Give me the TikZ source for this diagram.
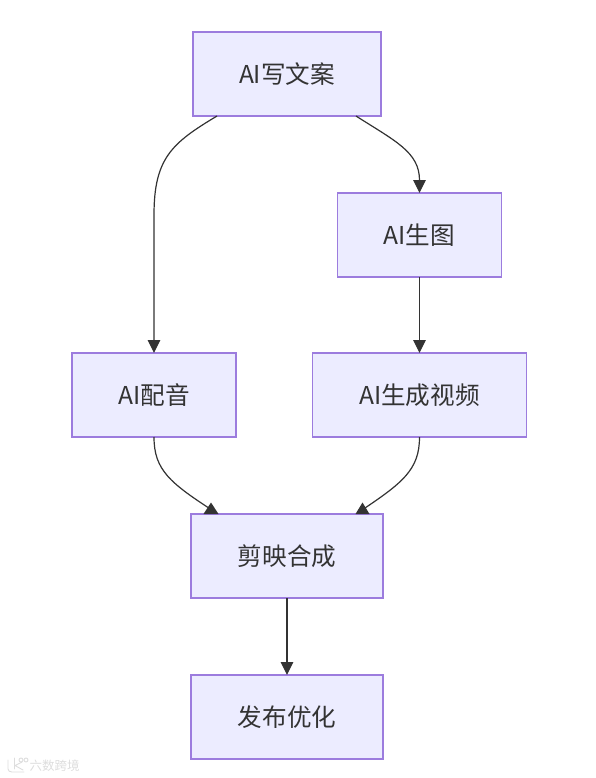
\documentclass[tikz,border=0pt]{standalone}
\usepackage{fontspec}
\setmainfont{Noto Sans CJK SC}
\usetikzlibrary{arrows.meta,calc}
\definecolor{nodefill}{HTML}{ECECFF}
\definecolor{nodeline}{HTML}{9C7CDE}
\definecolor{ink}{HTML}{333333}
\definecolor{wmark}{HTML}{DDDDDD}
\tikzset{
  x=1pt,y=-1pt,
  flowbox/.style={draw=nodeline,fill=nodefill,line width=1.3pt,outer sep=0pt,inner sep=0pt,
    text=ink,font=\fontsize{24.6}{28}\selectfont,minimum height=84pt},
  link/.style={draw=ink,line width=1.2pt},
  linkhead/.style={link,-{Triangle[length=13pt,width=12.5pt]}},
  headfill/.style={fill=ink},
  wm/.style={draw=wmark,line width=0.9pt,line cap=round,line join=round}
}
\begin{document}
\begin{tikzpicture}
\useasboundingbox (0,0) rectangle (595,778);
\node[flowbox,minimum width=188pt] (A) at (287,74) {AI写文案};
\node[flowbox,minimum width=164pt] (B) at (419.5,235) {AI生图};
\node[flowbox,minimum width=164pt] (C) at (154,395) {AI配音};
\node[flowbox,minimum width=214pt] (D) at (419.5,395) {AI生成视频};
\node[flowbox,minimum width=192pt] (E) at (287,556) {剪映合成};
\node[flowbox,minimum width=192pt] (F) at (287,717) {发布优化};
% connector ends on the box edges
\coordinate (a1) at ($(A.south)+(-70,0)$);
\coordinate (a2) at ($(A.south)+(69,0)$);
\coordinate (e1) at ($(E.north)+(-72,-2)$);
\coordinate (e2) at ($(E.north)+(72,-2)$);
\draw[linkhead] (a1) .. controls ($(a1)+(-45,27)$) and ($(C.north)+(0,-195)$) .. ($(C.north)+(0,-138)$) -- (C.north);
\draw[linkhead] (a2) .. controls ($(a2)+(39,25)$) and ($(B.north)+(0,-41)$) .. (B.north);
\draw[linkhead] (B.south) -- (D.north);
\draw[link] (C.south) .. controls ($(C.south)+(0,33)$) and ($(C.south)+(16,46)$) .. (e1);
\draw[link] (D.south) .. controls ($(D.south)+(0,33)$) and ($(D.south)+(-17,46)$) .. (e2);
\draw[linkhead] (E.south) -- (F.north);
% upright arrowheads sitting on the top edge of the merge box
\fill[headfill] ($(E.north)+(-76,-11.5)$) -- ($(E.north)+(-83.5,0)$) -- ($(E.north)+(-68.5,0)$) -- cycle;
\fill[headfill] ($(E.north)+(75.5,-11.5)$) -- ($(E.north)+(68.5,0)$) -- ($(E.north)+(82.5,0)$) -- cycle;
% watermark
\draw[wm] (8,760) -- (8,769) .. controls (8,771) and (10,772) .. (12,772) -- (24,772);
\draw[wm] (14,758) -- (14,769);
\draw[wm] (22,762) -- (15,765.5) -- (23,770);
\draw[wm] (21,760) circle (2);
\draw[wm] (26,760) circle (2);
\node[inner sep=0pt,text=wmark,font=\fontsize{12.5}{14}\selectfont] (wmtext) at (54.5,765.5) {六数跨境};
\end{tikzpicture}
\end{document}
